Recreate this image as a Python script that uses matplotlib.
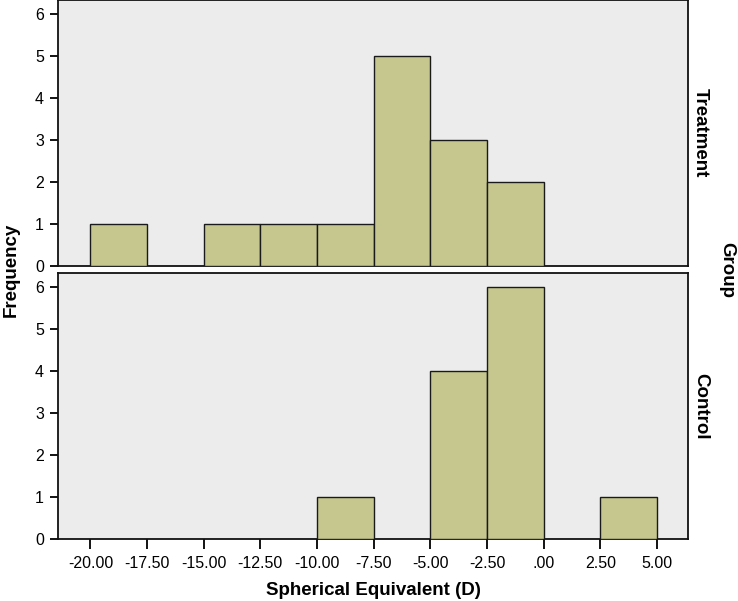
import matplotlib
matplotlib.use("Agg")
import matplotlib.pyplot as plt
import numpy as np

plt.rcParams['font.family'] = ['Liberation Sans', 'DejaVu Sans']

bin_edges = [-20.0, -17.5, -15.0, -12.5, -10.0, -7.5, -5.0, -2.5, 0.0, 2.5, 5.0]
groups = ["Treatment", "Control"]
treatment_counts = [1, 0, 1, 1, 1, 5, 3, 2, 0, 0]
control_counts = [0, 0, 0, 0, 1, 0, 4, 6, 0, 1]
xtick_values = [-20.0, -17.5, -15.0, -12.5, -10.0, -7.5, -5.0, -2.5, 0.0, 2.5, 5.0]
xtick_labels = ["-20.00", "-17.50", "-15.00", "-12.50", "-10.00", "-7.50",
                "-5.00", "-2.50", ".00", "2.50", "5.00"]
ytick_values = [0, 1, 2, 3, 4, 5, 6]

W, H = 738, 601
fig = plt.figure(figsize=(W / 100, H / 100), dpi=100)

left = 58 / W
width = (688 - 58) / W
ax_top = fig.add_axes([left, (H - 266) / H, width, 266 / H])
ax_bot = fig.add_axes([left, (H - 539) / H, width, 266 / H])

bar_color = "#c6c78e"
bg = "#ececec"
edges = np.array(bin_edges)
widths = np.diff(edges)

for ax, counts, name in [(ax_top, treatment_counts, groups[0]),
                         (ax_bot, control_counts, groups[1])]:
    ax.set_facecolor(bg)
    c = np.array(counts)
    mask = c > 0
    ax.bar(edges[:-1][mask], c[mask], width=widths[mask], align='edge',
           color=bar_color, edgecolor="#1a1a1a", linewidth=1.0, zorder=3)
    ax.set_xlim(-21.43, 6.37)
    ax.set_ylim(0, 6.33)
    ax.set_yticks(ytick_values)
    ax.set_yticklabels([str(v) for v in ytick_values], fontsize=11.5)
    ax.tick_params(axis='y', length=6, width=1.3, direction='out', pad=4)
    for sp in ax.spines.values():
        sp.set_color("#111111")
        sp.set_linewidth(1.3)
    ax.text(1.02, 0.5, name, transform=ax.transAxes, rotation=-90,
            ha='center', va='center', fontsize=13.5, fontweight='bold')

ax_top.set_xticks([])
ax_bot.set_xticks(xtick_values)
ax_bot.set_xticklabels(xtick_labels, fontsize=11.5)
ax_bot.tick_params(axis='x', length=7, width=1.3, direction='out', pad=5)
ax_bot.set_xlabel("Spherical Equivalent (D)", fontsize=13.5, fontweight='bold', labelpad=8)

fig.text(11 / W, 1 - 270 / H, "Frequency", rotation=90, ha='center', va='center',
         fontsize=13.5, fontweight='bold')
fig.text(727 / W, 1 - 270 / H, "Group", rotation=-90, ha='center', va='center',
         fontsize=13.5, fontweight='bold')

fig.savefig("out.png", dpi=100, facecolor="white")
